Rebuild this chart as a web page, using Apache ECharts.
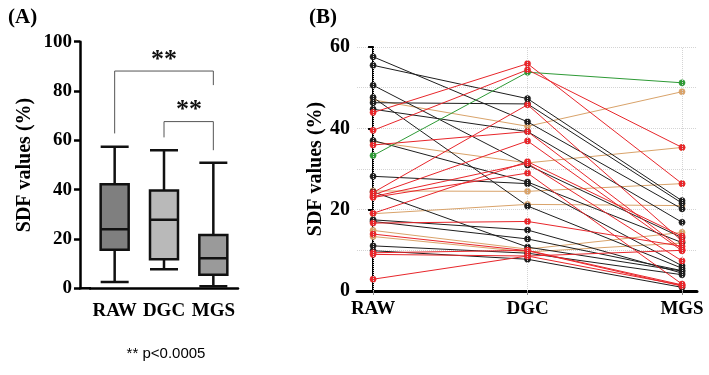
<!DOCTYPE html>
<html>
<head>
<meta charset="utf-8">
<script src="https://cdn.jsdelivr.net/npm/echarts@6/dist/echarts.min.js"></script>
<style>
  html, body { margin: 0; padding: 0; background: #fff; }
  #chart { width: 709px; height: 375px; }
</style>
</head>
<body>
<div id="chart"></div>
<script>
var groups = ["RAW", "DGC", "MGS"];

// panel A box stats: min, Q1, median, Q3, max
var boxRaw = [2.6, 15.6, 23.9, 42.2, 57.4];
var boxDgc = [7.7, 11.8, 27.8, 39.7, 56.0];
var boxMgs = [0.8, 5.5, 12.2, 21.6, 50.9];
var boxFill = ["#7f7f7f", "#b9b9b9", "#9a9a9a"];

// significance brackets (group index, value)
var bracketLong = [[0, 62.8], [0, 88.1], [2, 88.1], [2, 82.4]];
var bracketShort = [[1, 61.2], [1, 67.6], [2, 67.6], [2, 56.0]];

// panel B paired values per subject: RAW, DGC, MGS
var blackSubjects = [
  [57.6, 41.6, 20.2],
  [55.5, 47.3, 22.2],
  [50.6, 31.0, 13.1],
  [47.6, 20.9, 5.6],
  [46.3, 46.0, 21.6],
  [44.7, 39.2, 16.9],
  [37.0, 26.8, 11.9],
  [28.2, 26.4, 6.2],
  [24.4, 10.8, 4.9],
  [17.5, 15.0, 4.4],
  [17.1, 12.8, 5.0],
  [11.1, 9.3, 4.0],
  [9.9, 7.8, 0.9]
];
var redSubjects = [
  [43.9, 55.9, 26.4],
  [39.5, 54.4, 35.3],
  [35.9, 39.2, 10.3],
  [24.2, 45.8, 12.3],
  [23.6, 36.9, 9.9],
  [23.2, 31.4, 7.4],
  [23.0, 29.0, 1.7],
  [19.1, 31.8, 13.5],
  [16.7, 17.1, 11.0],
  [14.0, 9.9, 1.2],
  [9.4, 10.0, 1.5],
  [9.0, 8.6, 10.0],
  [2.9, 8.6, 1.4]
];
var tanSubjects = [
  [47.0, 40.5, 49.0],
  [36.7, 31.5, 35.3],
  [24.6, 24.5, 26.4],
  [19.0, 21.3, 21.0],
  [14.9, 10.3, 14.4],
  [13.4, 9.6, 11.8]
];
var greenSubjects = [
  [33.3, 53.8, 51.2]
];

var serif = "Liberation Serif";
var chart = echarts.init(document.getElementById("chart"));

function toPoints(s) {
  return s.map(function (v, i) { return [i, v]; });
}

// one line per subject, plus filled dots drawn through the axes
function pairedSeries(list, color) {
  var lines = list.map(function (s) {
    return {
      type: "line",
      xAxisIndex: 1,
      yAxisIndex: 1,
      z: 3,
      data: toPoints(s),
      symbol: "none",
      lineStyle: { color: color, width: 1 },
      animation: false
    };
  });
  var dots = {
    type: "custom",
    xAxisIndex: 1,
    yAxisIndex: 1,
    z: 4,
    data: [].concat.apply([], list.map(toPoints)),
    renderItem: function (params, api) {
      var p = api.coord([api.value(0), api.value(1)]);
      return { type: "circle", shape: { cx: p[0], cy: p[1], r: 3.1 }, style: { fill: color, stroke: color, lineWidth: 0.5 } };
    },
    animation: false
  };
  return lines.concat([dots]);
}

var series = [
  {
    type: "boxplot",
    xAxisIndex: 0,
    yAxisIndex: 0,
    boxWidth: [28, 28],
    data: [boxRaw, boxDgc, boxMgs].map(function (d, i) {
      return { value: d, itemStyle: { color: boxFill[i], borderColor: "#111", borderWidth: 2.5 } };
    }),
    animation: false
  },
  {
    type: "line",
    xAxisIndex: 0,
    yAxisIndex: 0,
    data: bracketLong,
    symbol: "none",
    lineStyle: { color: "#555", width: 1 },
    animation: false
  },
  {
    type: "line",
    xAxisIndex: 0,
    yAxisIndex: 0,
    data: bracketShort,
    symbol: "none",
    lineStyle: { color: "#555", width: 1 },
    animation: false
  },
  {
    // vertical grid lines at the groups
    type: "line",
    xAxisIndex: 1,
    yAxisIndex: 1,
    z: 1,
    data: [],
    markLine: {
      silent: true,
      symbol: "none",
      label: { show: false },
      lineStyle: { color: "#d4d4d4", type: "dotted", width: 1 },
      data: [{ xAxis: 0 }, { xAxis: 1 }, { xAxis: 2 }]
    },
    animation: false
  }
];
series = series
  .concat(pairedSeries(tanSubjects, "#d9a36a"))
  .concat(pairedSeries(blackSubjects, "#1e1e1e"))
  .concat(pairedSeries(greenSubjects, "#2e9a36"))
  .concat(pairedSeries(redSubjects, "#e8262b"));

var option = {
  backgroundColor: "#fff",
  title: [
    { text: "(A)", left: 3, top: 2, textStyle: { fontFamily: serif, fontWeight: "bold", fontSize: 21, color: "#000" } },
    { text: "(B)", left: 304, top: 2, textStyle: { fontFamily: serif, fontWeight: "bold", fontSize: 21, color: "#000" } }
  ],
  grid: [
    { left: 90, width: 148, top: 41.7, bottom: 86.7 },
    { left: 357, right: 12, top: 47, bottom: 84 }
  ],
  xAxis: [
    {
      type: "category",
      gridIndex: 0,
      data: groups,
      axisLine: { lineStyle: { color: "#000", width: 2.5 } },
      axisTick: { alignWithLabel: true, length: 6, lineStyle: { color: "#000", width: 2.5 } },
      axisLabel: { interval: 0, hideOverlap: false, margin: 13, color: "#000", fontFamily: serif, fontWeight: "bold", fontSize: 19 }
    },
    {
      type: "value",
      gridIndex: 1,
      min: -0.104,
      max: 2.097,
      splitLine: { show: false },
      axisLine: { lineStyle: { color: "#000", width: 3 } },
      axisTick: { customValues: [0, 1, 2], length: 4, lineStyle: { color: "#888", width: 1 } },
      axisLabel: {
        customValues: [0, 1, 2],
        margin: 9,
        color: "#000",
        fontFamily: serif,
        fontWeight: "bold",
        fontSize: 19,
        formatter: function (v) { return groups[Math.round(v)]; }
      }
    }
  ],
  yAxis: [
    {
      type: "value",
      gridIndex: 0,
      min: 0,
      max: 100,
      interval: 20,
      offset: 10,
      name: "SDF values (%)",
      nameLocation: "middle",
      nameGap: 45,
      nameTextStyle: { fontFamily: serif, fontWeight: "bold", fontSize: 20, color: "#000" },
      splitLine: { show: false },
      axisLine: { show: true, lineStyle: { color: "#000", width: 2.5 } },
      axisTick: { show: true, length: 6, lineStyle: { color: "#000", width: 2.5 } },
      axisLabel: { margin: 8, color: "#000", fontFamily: serif, fontWeight: "bold", fontSize: 19 }
    },
    {
      type: "value",
      gridIndex: 1,
      min: 0,
      max: 60,
      interval: 20,
      name: "SDF values (%)",
      nameLocation: "middle",
      nameGap: 31,
      nameTextStyle: { fontFamily: serif, fontWeight: "bold", fontSize: 20, color: "#000" },
      splitLine: { show: true, lineStyle: { color: "#d4d4d4", type: "dotted" } },
      minorTick: { show: false, splitNumber: 2 },
      minorSplitLine: { show: true, lineStyle: { color: "#d4d4d4", type: "dotted" } },
      axisLine: { show: true, lineStyle: { color: "#000", width: 2 } },
      axisTick: { show: true, length: 5, lineStyle: { color: "#000", width: 2 } },
      axisLabel: { margin: 7, color: "#000", fontFamily: serif, fontWeight: "bold", fontSize: 20 }
    }
  ],
  graphic: [
    // join x axis of panel A to the offset y axis
    { type: "line", shape: { x1: 79, y1: 288.3, x2: 91, y2: 288.3 }, style: { stroke: "#000", lineWidth: 2.5 } },
    { type: "text", x: 164, y: 60, style: { text: "**", font: "bold 26px " + serif, fill: "#111", align: "center", verticalAlign: "middle" } },
    { type: "text", x: 189, y: 110, style: { text: "**", font: "bold 26px " + serif, fill: "#111", align: "center", verticalAlign: "middle" } },
    { type: "text", x: 166, y: 354, style: { text: "** p<0.0005", font: "15px Liberation Sans", fill: "#000", align: "center", verticalAlign: "middle" } }
  ],
  series: series
};

chart.setOption(option);
</script>
</body>
</html>
